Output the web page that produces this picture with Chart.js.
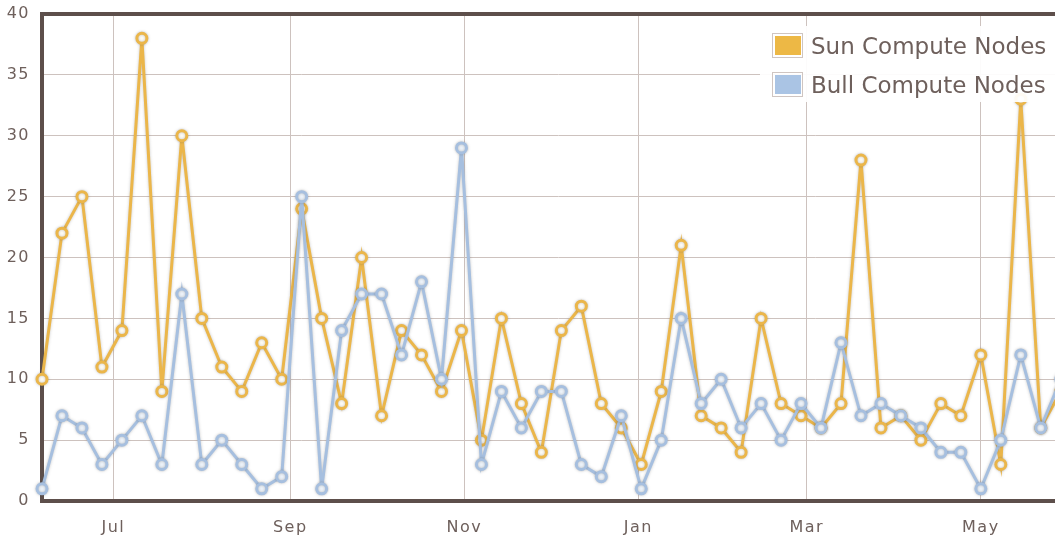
<!DOCTYPE html>
<html>
<head>
<meta charset="utf-8">
<script src="https://cdn.jsdelivr.net/npm/chart.js@4.4.1/dist/chart.umd.min.js"></script>
<style>
    body { margin: 0; background: #ffffff; overflow: hidden; }
    .line-chart { position: absolute; left: 0; top: 0; width: 1081px; height: 536px; }
</style>
</head>
<body>
<div class="line-chart"><canvas class="line-chart--chart"></canvas></div>
<script>
// weekly samples
let weeks = [
    '2010-06-06', '2010-06-13', '2010-06-20', '2010-06-27',
    '2010-07-04', '2010-07-11', '2010-07-18', '2010-07-25',
    '2010-08-01', '2010-08-08', '2010-08-15', '2010-08-22', '2010-08-29',
    '2010-09-05', '2010-09-12', '2010-09-19', '2010-09-26',
    '2010-10-03', '2010-10-10', '2010-10-17', '2010-10-24', '2010-10-31',
    '2010-11-07', '2010-11-14', '2010-11-21', '2010-11-28',
    '2010-12-05', '2010-12-12', '2010-12-19', '2010-12-26',
    '2011-01-02', '2011-01-09', '2011-01-16', '2011-01-23', '2011-01-30',
    '2011-02-06', '2011-02-13', '2011-02-20', '2011-02-27',
    '2011-03-06', '2011-03-13', '2011-03-20', '2011-03-27',
    '2011-04-03', '2011-04-10', '2011-04-17', '2011-04-24',
    '2011-05-01', '2011-05-08', '2011-05-15', '2011-05-22', '2011-05-29'
]

let sunNodes = [
    10, 22, 25, 11, 14, 38, 9, 30, 15, 11, 9, 13, 10,
    24, 15, 8, 20, 7, 14, 12, 9, 14, 5, 15, 8, 4,
    14, 16, 8, 6, 3, 9, 21, 7, 6, 4, 15, 8, 7,
    6, 8, 28, 6, 7, 5, 8, 7, 12, 3, 33, 6, 9
]

let bullNodes = [
    1, 7, 6, 3, 5, 7, 3, 17, 3, 5, 3, 1, 2,
    25, 1, 14, 17, 17, 12, 18, 10, 29, 3, 9, 6, 9,
    9, 3, 2, 7, 1, 5, 15, 8, 10, 6, 8, 5, 8,
    6, 13, 7, 8, 7, 6, 4, 4, 1, 5, 12, 6, 10
]

let monthTicks = ['2010-07-01', '2010-09-01', '2010-11-01', '2011-01-01', '2011-03-01', '2011-05-01']
let monthLabels = ['Jul', 'Sep', 'Nov', 'Jan', 'Mar', 'May']

let xStart = '2010-06-06'
let xDays = 361.3

const DAY = 86400000
const axisColor = '#5d4f4b'
const gridColor = '#cdc2be'
const textColor = '#6e605c'

function toMs(d) {
    let p = d.split('-')
    return Date.UTC(+p[0], +p[1] - 1, +p[2])
}

function points(values) {
    return weeks.map(function (w, i) {
        return { x: toMs(w), y: values[i] }
    })
}

// wider spacing on the axis labels
const axisSpacing = {
    id: 'axisSpacing',
    beforeDraw(chart) {
        chart.ctx.letterSpacing = '1.5px'
    },
    beforeDatasetsDraw(chart) {
        chart.ctx.letterSpacing = '0px'
    }
}

// soft halo round lines and markers
const softShadow = {
    id: 'softShadow',
    beforeDatasetsDraw(chart) {
        chart.ctx.save()
        chart.ctx.shadowColor = 'rgba(90,90,90,0.35)'
        chart.ctx.shadowBlur = 3
    },
    afterDatasetsDraw(chart) {
        chart.ctx.restore()
    }
}

// legend box sitting in the top right corner of the plot
const cornerLegend = {
    id: 'cornerLegend',
    afterDraw(chart) {
        let ctx = chart.ctx
        ctx.save()
        ctx.letterSpacing = '0px'
        ctx.fillStyle = 'rgba(255,255,255,0.93)'
        ctx.fillRect(760, 26, 330, 76)
        ctx.font = '23px "DejaVu Sans"'
        ctx.textBaseline = 'alphabetic'
        chart.data.datasets.forEach(function (ds, i) {
            let y = 45 + i * 39
            ctx.strokeStyle = '#cfc5c1'
            ctx.lineWidth = 1
            ctx.strokeRect(772.5, y - 11.5, 30, 24)
            ctx.fillStyle = ds.swatch
            ctx.fillRect(775, y - 9, 26, 19)
            ctx.fillStyle = textColor
            ctx.fillText(ds.label, 811, y + 9)
        })
        ctx.restore()
    }
}

let ctx = document.querySelector('.line-chart--chart').getContext('2d')

let lineChart = new Chart(ctx, {
    type: 'line',
    data: {
        datasets: [{
            label: 'Sun Compute Nodes',
            data: points(sunNodes),
            borderColor: '#ebb64a',
            swatch: '#edb845',
            backgroundColor: '#fffdf6',
            pointBackgroundColor: '#fffdf6',
            pointBorderColor: '#ebb64a',
            order: 1
        }, {
            label: 'Bull Compute Nodes',
            data: points(bullNodes),
            borderColor: '#a6bfdf',
            swatch: '#aac4e4',
            backgroundColor: '#eef4fb',
            pointBackgroundColor: '#eef4fb',
            pointBorderColor: '#a6bfdf',
            order: 0
        }]
    },
    options: {
        responsive: true,
        maintainAspectRatio: false,
        animation: false,
        layout: { padding: { top: 14, left: 0, right: 0, bottom: 0 } },
        elements: {
            line: { borderWidth: 3, tension: 0 },
            point: { radius: 5, borderWidth: 3, hoverRadius: 5 }
        },
        datasets: { line: { clip: false } },
        plugins: {
            legend: { display: false },
            tooltip: { enabled: false }
        },
        scales: {
            x: {
                type: 'linear',
                min: toMs(xStart),
                max: toMs(xStart) + xDays * DAY,
                afterBuildTicks: function (scale) {
                    scale.ticks = monthTicks.map(function (m) { return { value: toMs(m) } })
                },
                afterFit: function (scale) { scale.height = 35 },
                ticks: {
                    autoSkip: false,
                    maxRotation: 0,
                    padding: 17,
                    color: textColor,
                    font: { family: 'DejaVu Sans', size: 16 },
                    callback: function (value, index) { return monthLabels[index] }
                },
                grid: { color: gridColor, lineWidth: 1, drawTicks: false },
                border: { display: false }
            },
            y: {
                min: 0,
                max: 40,
                afterFit: function (scale) { scale.width = 42 },
                ticks: {
                    stepSize: 5,
                    padding: 0,
                    color: textColor,
                    font: { family: 'DejaVu Sans', size: 16 }
                },
                grid: {
                    drawTicks: true,
                    tickLength: 12,
                    tickColor: 'rgba(0,0,0,0)',
                    color: function (c) { return (c.tick && (c.tick.value === 0 || c.tick.value === 40)) ? axisColor : gridColor },
                    lineWidth: function (c) { return (c.tick && (c.tick.value === 0 || c.tick.value === 40)) ? 4 : 1 }
                },
                border: { display: true, color: axisColor, width: 4 }
            }
        }
    },
    plugins: [axisSpacing, softShadow, cornerLegend]
});
</script>
</body>
</html>
